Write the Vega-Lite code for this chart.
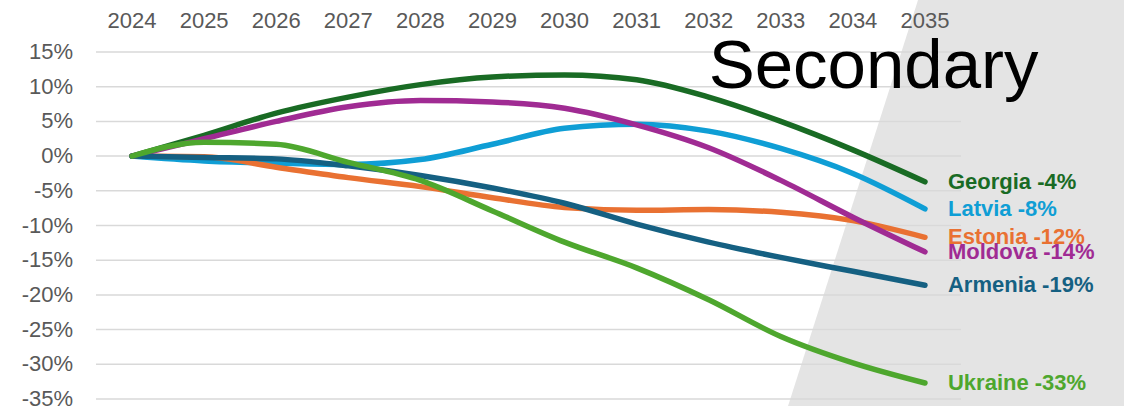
{
  "$schema": "https://vega.github.io/schema/vega-lite/v6.json",
  "width": 865,
  "height": 347,
  "autosize": {"type": "none"},
  "padding": {"left": 96, "top": 52, "right": 163, "bottom": 7},
  "background": "white",
  "config": {"view": {"stroke": null}, "font": "Liberation Sans", "axis": {"disable": true}},
  "datasets": {
    "bg": [
      {"v": 0.2248, "xl": 2034.904, "xr": 2038.5},
      {"v": -0.3602, "xl": 2033.1, "xr": 2038.5}
    ],
    "grid": [
      {"g": 0.15}, {"g": 0.10}, {"g": 0.05}, {"g": 0.0}, {"g": -0.05}, {"g": -0.10},
      {"g": -0.15}, {"g": -0.20}, {"g": -0.25}, {"g": -0.30}, {"g": -0.35}
    ],
    "series": [
      {"country": "Georgia", "year": 2024, "value": 0},
      {"country": "Georgia", "year": 2025, "value": 0.030},
      {"country": "Georgia", "year": 2026, "value": 0.062},
      {"country": "Georgia", "year": 2027, "value": 0.085},
      {"country": "Georgia", "year": 2028, "value": 0.103},
      {"country": "Georgia", "year": 2029, "value": 0.114},
      {"country": "Georgia", "year": 2030, "value": 0.117},
      {"country": "Georgia", "year": 2031, "value": 0.110},
      {"country": "Georgia", "year": 2032, "value": 0.085},
      {"country": "Georgia", "year": 2033, "value": 0.050},
      {"country": "Georgia", "year": 2034, "value": 0.009},
      {"country": "Georgia", "year": 2035, "value": -0.037},
      {"country": "Latvia", "year": 2024, "value": 0},
      {"country": "Latvia", "year": 2025, "value": -0.007},
      {"country": "Latvia", "year": 2026, "value": -0.010},
      {"country": "Latvia", "year": 2027, "value": -0.012},
      {"country": "Latvia", "year": 2028, "value": -0.005},
      {"country": "Latvia", "year": 2029, "value": 0.017},
      {"country": "Latvia", "year": 2030, "value": 0.040},
      {"country": "Latvia", "year": 2031, "value": 0.046},
      {"country": "Latvia", "year": 2032, "value": 0.036},
      {"country": "Latvia", "year": 2033, "value": 0.011},
      {"country": "Latvia", "year": 2034, "value": -0.025},
      {"country": "Latvia", "year": 2035, "value": -0.076},
      {"country": "Estonia", "year": 2024, "value": 0},
      {"country": "Estonia", "year": 2025, "value": -0.001},
      {"country": "Estonia", "year": 2026, "value": -0.016},
      {"country": "Estonia", "year": 2027, "value": -0.031},
      {"country": "Estonia", "year": 2028, "value": -0.044},
      {"country": "Estonia", "year": 2029, "value": -0.060},
      {"country": "Estonia", "year": 2030, "value": -0.074},
      {"country": "Estonia", "year": 2031, "value": -0.078},
      {"country": "Estonia", "year": 2032, "value": -0.077},
      {"country": "Estonia", "year": 2033, "value": -0.081},
      {"country": "Estonia", "year": 2034, "value": -0.093},
      {"country": "Estonia", "year": 2035, "value": -0.117},
      {"country": "Moldova", "year": 2024, "value": 0},
      {"country": "Moldova", "year": 2025, "value": 0.025},
      {"country": "Moldova", "year": 2026, "value": 0.050},
      {"country": "Moldova", "year": 2027, "value": 0.071},
      {"country": "Moldova", "year": 2028, "value": 0.080},
      {"country": "Moldova", "year": 2029, "value": 0.078},
      {"country": "Moldova", "year": 2030, "value": 0.069},
      {"country": "Moldova", "year": 2031, "value": 0.045},
      {"country": "Moldova", "year": 2032, "value": 0.012},
      {"country": "Moldova", "year": 2033, "value": -0.035},
      {"country": "Moldova", "year": 2034, "value": -0.088},
      {"country": "Moldova", "year": 2035, "value": -0.138},
      {"country": "Armenia", "year": 2024, "value": 0},
      {"country": "Armenia", "year": 2025, "value": -0.002},
      {"country": "Armenia", "year": 2026, "value": -0.004},
      {"country": "Armenia", "year": 2027, "value": -0.014},
      {"country": "Armenia", "year": 2028, "value": -0.028},
      {"country": "Armenia", "year": 2029, "value": -0.046},
      {"country": "Armenia", "year": 2030, "value": -0.068},
      {"country": "Armenia", "year": 2031, "value": -0.098},
      {"country": "Armenia", "year": 2032, "value": -0.124},
      {"country": "Armenia", "year": 2033, "value": -0.146},
      {"country": "Armenia", "year": 2034, "value": -0.166},
      {"country": "Armenia", "year": 2035, "value": -0.186},
      {"country": "Ukraine", "year": 2024, "value": 0},
      {"country": "Ukraine", "year": 2025, "value": 0.020},
      {"country": "Ukraine", "year": 2026, "value": 0.017},
      {"country": "Ukraine", "year": 2027, "value": -0.009},
      {"country": "Ukraine", "year": 2028, "value": -0.035},
      {"country": "Ukraine", "year": 2029, "value": -0.079},
      {"country": "Ukraine", "year": 2030, "value": -0.124},
      {"country": "Ukraine", "year": 2031, "value": -0.161},
      {"country": "Ukraine", "year": 2032, "value": -0.207},
      {"country": "Ukraine", "year": 2033, "value": -0.260},
      {"country": "Ukraine", "year": 2034, "value": -0.298},
      {"country": "Ukraine", "year": 2035, "value": -0.327}
    ],
    "heading": [{"t": "Secondary"}]
  },
  "layer": [
    {
      "data": {"name": "bg"},
      "mark": {"type": "area", "orient": "horizontal", "color": "#e4e4e4", "clip": false},
      "encoding": {
        "y": {"field": "v", "type": "quantitative", "scale": {"domain": [-0.35, 0.15], "nice": false, "zero": false}},
        "x": {"field": "xl", "type": "quantitative", "scale": {"domain": [2023.5, 2035.5], "nice": false, "zero": false}},
        "x2": {"field": "xr"}
      }
    },
    {
      "data": {"name": "grid"},
      "mark": {"type": "rule", "color": "#d9d9d9", "strokeWidth": 1.5},
      "encoding": {
        "y": {"field": "g", "type": "quantitative"}
      }
    },
    {
      "data": {"name": "grid"},
      "transform": [
        {"calculate": "round(datum.g*100) + '%'", "as": "lab"},
        {"calculate": "2023.5", "as": "xpos"}
      ],
      "mark": {"type": "text", "align": "right", "baseline": "middle", "dx": -23, "fontSize": 22, "color": "#595959"},
      "encoding": {
        "x": {"field": "xpos", "type": "quantitative"},
        "y": {"field": "g", "type": "quantitative"},
        "text": {"field": "lab", "type": "nominal"}
      }
    },
    {
      "data": {"name": "series"},
      "transform": [
        {"filter": "datum.country == 'Georgia'"},
        {"calculate": "0.15", "as": "ypos"},
        {"calculate": "'' + datum.year", "as": "ylab"}
      ],
      "mark": {"type": "text", "align": "center", "baseline": "alphabetic", "dy": -24, "fontSize": 22, "color": "#595959"},
      "encoding": {
        "x": {"field": "year", "type": "quantitative"},
        "y": {"field": "ypos", "type": "quantitative"},
        "text": {"field": "ylab", "type": "nominal"}
      }
    },
    {
      "data": {"name": "series"},
      "mark": {"type": "line", "strokeWidth": 5.5, "strokeCap": "round", "strokeJoin": "round", "interpolate": "monotone"},
      "encoding": {
        "x": {"field": "year", "type": "quantitative"},
        "y": {"field": "value", "type": "quantitative"},
        "color": {
          "field": "country", "type": "nominal", "legend": null,
          "scale": {
            "domain": ["Georgia", "Latvia", "Estonia", "Moldova", "Armenia", "Ukraine"],
            "range": ["#196B24", "#0F9ED5", "#E97132", "#A02B93", "#156082", "#4EA72E"]
          }
        }
      }
    },
    {
      "data": {"name": "series"},
      "transform": [
        {"filter": "datum.year == 2035"},
        {"calculate": "datum.country + ' ' + round(datum.value*100) + '%'", "as": "label"}
      ],
      "mark": {"type": "text", "align": "left", "baseline": "middle", "dx": 23, "fontSize": 22, "fontWeight": "bold"},
      "encoding": {
        "x": {"field": "year", "type": "quantitative"},
        "y": {"field": "value", "type": "quantitative"},
        "text": {"field": "label", "type": "nominal"},
        "color": {"field": "country", "type": "nominal", "legend": null}
      }
    },
    {
      "data": {"name": "heading"},
      "mark": {"type": "text", "align": "left", "baseline": "alphabetic", "fontSize": 69, "color": "#000000"},
      "encoding": {
        "x": {"datum": 2032.0},
        "y": {"datum": 0.098},
        "text": {"field": "t", "type": "nominal"}
      }
    }
  ]
}
